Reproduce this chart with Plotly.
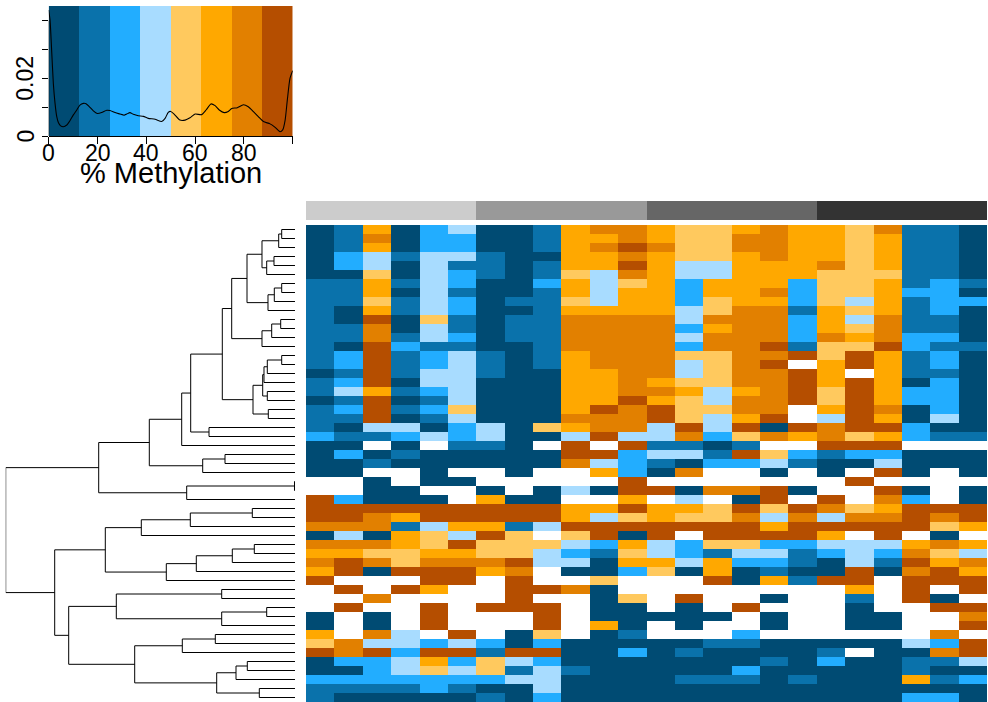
import plotly.graph_objects as go

W, H = 988, 702

# Colour bin palette (8 methylation bins)
palette = ["#004B73", "#0A72AB", "#22ADFF", "#A8DCFF", "#FFC95E", "#FFA800", "#E28000", "#B54E00"]
group_greys = ["#CCCCCC", "#999999", "#666666", "#333333"]
bin_edges = [0, 12.5, 25, 37.5, 50, 62.5, 75, 87.5, 100]

# Heatmap cells: bin number 1-8, 0 = missing value (white)
cells = [
 [1,2,6,1,3,4,1,1,2,6,7,7, 6,5,5,6,7,6,6,5,7,2,2,1],
 [1,2,7,1,3,3,1,1,2,6,6,7, 6,5,5,7,7,6,6,5,6,2,2,1],
 [1,2,6,1,3,3,1,1,2,6,7,8, 7,5,5,7,7,6,6,5,6,2,2,1],
 [1,3,4,2,4,4,2,1,1,6,6,7, 6,5,5,6,7,6,6,5,6,2,2,1],
 [1,3,4,1,4,2,2,1,2,6,6,8, 6,4,4,6,6,6,7,5,6,2,2,1],
 [1,1,5,1,4,3,2,1,2,5,4,7, 6,4,4,6,6,6,5,5,5,2,2,1],
 [2,2,6,2,4,3,1,1,3,6,4,5, 6,3,6,6,6,3,5,5,6,2,3,2],
 [2,2,6,1,4,2,1,1,2,6,4,6, 6,3,6,6,7,3,5,5,6,3,3,1],
 [2,2,5,2,4,3,1,2,2,5,4,6, 6,3,5,6,6,3,5,4,6,2,3,3],
 [2,1,6,2,4,3,1,1,2,6,6,6, 6,4,5,7,7,2,6,5,6,2,3,1],
 [2,1,8,1,5,2,1,2,2,7,7,7, 7,4,7,7,7,3,6,4,7,2,2,1],
 [2,2,7,1,4,2,1,2,2,7,7,7, 7,3,6,7,7,3,6,5,7,2,2,1],
 [2,2,7,2,4,3,1,2,2,7,7,7, 7,4,7,7,7,3,7,6,7,3,3,1],
 [2,1,8,3,2,2,1,1,2,7,7,7, 7,3,7,7,8,2,5,5,8,3,2,2],
 [2,3,8,2,3,4,2,1,2,6,7,7, 7,5,5,7,7,8,5,8,6,2,3,1],
 [2,3,8,2,3,4,2,1,2,6,7,7, 7,4,5,7,8,0,6,8,6,2,3,1],
 [1,2,8,2,4,4,2,1,1,6,6,7, 7,4,5,7,7,8,6,0,6,2,2,1],
 [2,3,8,1,4,4,1,1,1,6,6,7, 6,5,5,7,7,8,6,8,6,1,3,1],
 [2,4,6,2,3,4,1,1,1,6,6,7, 7,6,4,6,7,8,5,8,6,3,3,1],
 [1,2,8,1,2,4,1,1,1,6,6,8, 6,5,4,7,7,8,5,8,6,3,3,1],
 [2,3,8,2,3,5,1,1,1,6,8,7, 8,5,5,7,7,0,6,8,7,1,3,1],
 [2,2,8,1,2,4,1,1,1,7,7,7, 8,5,4,6,8,0,4,8,6,1,4,1],
 [2,1,4,4,1,3,4,1,5,6,7,7, 4,8,4,8,1,8,7,8,8,3,1,1],
 [3,2,2,3,4,3,4,1,1,4,8,4, 4,7,3,5,7,6,7,5,6,3,2,2],
 [1,1,0,1,0,2,2,1,0,8,0,8, 2,2,1,2,0,0,8,8,8,0,0,0],
 [1,3,1,2,1,1,1,1,1,8,8,3, 4,4,2,8,5,3,2,3,3,1,1,1],
 [1,1,2,1,1,1,1,1,1,7,4,3, 2,1,3,3,4,2,1,1,4,1,1,1],
 [1,1,0,0,1,0,0,1,0,0,6,3, 1,7,0,0,1,0,1,0,8,1,0,1],
 [0,0,1,0,1,1,0,0,0,0,0,8, 0,0,0,0,0,0,0,8,0,0,0,0],
 [0,0,1,1,0,0,1,0,1,4,1,8, 8,1,7,7,8,1,0,0,8,1,0,1],
 [8,3,1,1,1,0,6,1,1,0,0,6, 0,4,0,1,8,0,8,0,7,3,0,1],
 [8,8,8,8,8,8,8,8,8,6,6,8, 6,6,5,8,5,8,7,5,6,8,8,8],
 [8,8,7,6,8,8,8,8,8,6,4,5, 6,5,5,7,4,7,4,7,7,8,7,8],
 [7,7,7,2,4,6,6,2,4,8,8,8, 8,8,8,8,6,8,8,8,8,8,5,6],
 [1,4,1,6,5,4,8,5,0,5,8,1, 8,0,8,8,8,8,6,0,8,0,1,0],
 [7,7,7,6,5,8,5,5,5,4,3,6, 4,3,5,5,3,3,4,4,4,6,7,6],
 [6,6,5,5,6,6,5,5,4,3,2,5, 4,3,2,4,4,2,3,4,3,7,5,4],
 [7,8,7,5,7,7,7,8,4,4,1,6, 6,4,6,3,3,2,1,4,2,8,6,7],
 [6,8,1,8,8,8,6,7,0,1,1,3, 5,1,6,1,2,1,1,8,1,7,8,6],
 [8,0,0,0,8,8,0,8,0,0,5,0, 0,0,8,1,6,2,8,8,0,8,8,8],
 [0,8,0,8,6,0,0,8,8,7,1,0, 0,0,0,0,0,0,0,6,0,8,0,8],
 [0,0,7,0,0,0,0,8,0,0,1,5, 0,8,0,0,1,0,0,2,0,8,1,0],
 [0,8,0,0,8,0,8,8,8,0,1,1, 0,1,0,8,0,0,0,1,0,0,8,8],
 [1,0,1,0,8,0,0,0,8,0,1,1, 1,1,1,0,1,0,0,1,1,0,0,7],
 [1,0,1,0,8,0,0,0,8,0,6,1, 0,1,0,0,1,0,0,1,1,0,0,8],
 [6,0,7,4,0,8,0,1,5,0,1,2, 0,0,0,3,0,0,0,0,0,0,7,0],
 [5,7,4,4,3,4,3,1,3,1,1,1, 1,1,2,2,1,1,1,1,1,4,3,8],
 [8,7,8,3,8,8,2,8,8,1,1,3, 1,2,1,1,1,1,2,0,1,1,7,8],
 [1,3,3,4,6,3,5,4,3,1,1,1, 1,1,1,1,2,1,3,1,1,2,2,4],
 [1,1,3,4,5,4,5,2,4,2,1,1, 1,1,1,3,1,1,1,1,1,2,1,1],
 [3,3,3,3,3,3,3,4,4,1,1,1, 1,2,2,2,1,2,1,1,1,6,2,3],
 [2,2,2,2,3,2,1,1,4,1,1,1, 1,1,1,1,1,1,1,1,1,1,1,1],
 [2,1,1,1,1,1,2,1,3,1,1,1, 1,1,1,1,1,1,1,1,1,3,3,1],
]

# Column groups (annotation bar)
col_groups = [1]*6 + [2]*6 + [3]*6 + [4]*6

# Row dendrogram as nested [merge height, child, child]; integers are row numbers
tree = [289.3,
  [196.3,
    [145.7,
      [113.3,
        [104.3,
          [72.7,
            [63.3,
              [48,
                [33, [16.3, [13.3, 0, 1], 2], [28.3, [21, 3, 4], 5]],
                [27, [20.7, [13.3, 6, 7], 8], 9]],
              [33, [23.3, [14.3, 10, 11], 12], 13]],
            [42,
              [32.3,
                [31, [27.7, [13.3, 14, 15], 16], 17],
                [27.7, 18, 19]],
              [26.7, 20, 21]]],
          [86, 22, 23]],
        24],
      [92.3, [70, 25, 26], 27]],
    [108.3, [0.5, 28, 29], 30]],
  [240.3,
    [189.7,
      [153.7, [104.7, [42.7, 31, 32], 33], 34],
      [128.7, [98.7, [62.7, [40.7, 35, 36], 37], 38], 39]],
    [226.3,
      [178.7,
        [73.3, 40, 41],
        [73.3, [28.3, 42, 43], 44]],
      [160.3,
        [112.7, [79.7, 45, 46], 47],
        [78.3, [59, [47.7, 48, 49], 50], [35.7, 51, 52]]]]]]

# Density of % methylation
density_x = [0,.55,1.2,1.9,2.6,3.3,4.0,4.9,6.0,7.4,8.7,10.1,11.5,12.8,14.2,15.3,16.7,18.3,19.9,21.7,
             23.8,25.1,27.2,29.2,30.9,32.0,33.3,34.7,36.7,38.8,40.8,43.6,46.3,47.7,49.0,50.0,51.4,53.8,55.9,57.9,
             60.0,62.7,64.5,66.5,68.2,69.9,71.9,73.6,75.0,77.3,79.8,81.8,83.9,85.9,88.0,90.7,92.8,94.8,95.9,96.9,
             97.8,98.9,100]
density_y = [.0436,.0401,.0298,.0182,.0113,.0067,.0046,.0035,.0032,.0038,.0053,.0073,.0090,.0107,.0113,.0112,.0101,.0087,.0078,.0081,
             .0089,.0088,.0081,.0076,.0072,.0076,.0081,.0075,.0070,.0068,.0061,.0058,.0050,.0061,.0082,.0085,.0076,.0055,.0055,.0063,
             .0076,.0074,.0090,.0111,.0105,.0090,.0081,.0085,.0095,.0098,.0108,.0101,.0084,.0067,.0050,.0042,.0030,.0015,.0021,.0055,
             .0125,.0200,.0226]

x_ticks = [0, 20, 40, 60, 80, 100]
x_tick_labels = ["0", "20", "40", "60", "80", ""]
y_ticks = [0, .01, .02, .03, .04]
y_tick_labels = ["0", "", "0.02", "", ""]
x_title = "% Methylation"

FONT = "Liberation Sans, Helvetica, Arial, sans-serif"


def xdom(a, b):
    return [a / W, b / W]


def ydom(top, bottom):
    return [1 - bottom / H, 1 - top / H]


def discrete(colors):
    n = len(colors)
    out = []
    for i, c in enumerate(colors):
        out += [[i / n, c], [(i + 1) / n, c]]
    return out


# walk the tree into line segments
seg_x, seg_y = [], []


def walk(node):
    if isinstance(node, int):
        return 0.0, float(node)
    h, a, b = node
    ha, ya = walk(a)
    hb, yb = walk(b)
    seg_x.extend([ha, h, h, hb, None])
    seg_y.extend([ya, ya, yb, yb, None])
    return h, (ya + yb) / 2


walk(tree)

fig = go.Figure()

# density panel
fig.add_trace(go.Heatmap(
    x=bin_edges, y=[0, 0.045], z=[list(range(1, 9))],
    colorscale=discrete(palette), zmin=.5, zmax=8.5, showscale=False, hoverinfo="skip",
    xaxis="x", yaxis="y"))
fig.add_trace(go.Scatter(
    x=density_x, y=density_y, mode="lines", line=dict(color="black", width=1.1, shape="spline", smoothing=.6),
    showlegend=False, xaxis="x", yaxis="y"))
fig.add_trace(go.Scatter(
    x=[0, 0], y=[y_ticks[0], y_ticks[-1]], mode="lines", line=dict(color="black", width=1),
    showlegend=False, hoverinfo="skip", cliponaxis=False, xaxis="x", yaxis="y"))

# group bar
fig.add_trace(go.Heatmap(
    z=[col_groups], colorscale=discrete(group_greys), zmin=.5, zmax=4.5, showscale=False,
    hoverinfo="skip", xaxis="x2", yaxis="y2"))

# main heatmap
fig.add_trace(go.Heatmap(
    z=[[v if v else None for v in row] for row in cells],
    colorscale=discrete(palette), zmin=.5, zmax=8.5, showscale=False, hoverongaps=False,
    xaxis="x3", yaxis="y3"))

# dendrogram
fig.add_trace(go.Scatter(
    x=seg_x, y=seg_y, mode="lines", line=dict(color="black", width=1), showlegend=False,
    hoverinfo="skip", cliponaxis=False, xaxis="x4", yaxis="y4"))

blank = dict(showgrid=False, zeroline=False, showticklabels=False, ticks="", showline=False, automargin=False)
row_range = [len(cells) - .5, -.5]

annots = [dict(text=x_title, xref="paper", yref="paper", x=170.7 / W, y=1 - 173 / H,
               xanchor="center", yanchor="middle", showarrow=False, font=dict(size=29, family=FONT))]
for v, t in zip(y_ticks, y_tick_labels):
    if t:
        annots.append(dict(text=t, xref="paper", yref="y", x=25.5 / W, y=v, textangle=-90,
                           xanchor="center", yanchor="middle", showarrow=False, font=dict(size=23, family=FONT)))
for v, t in zip(x_ticks, x_tick_labels):
    if t:
        annots.append(dict(text=t, xref="x", yref="paper", x=v, y=1 - 153 / H,
                           xanchor="center", yanchor="middle", showarrow=False, font=dict(size=23, family=FONT)))

fig.update_layout(
    width=W, height=H, autosize=False,
    margin=dict(l=0, r=0, t=0, b=0),
    paper_bgcolor="white", plot_bgcolor="white",
    font=dict(family=FONT, color="black"),
    showlegend=False,
    annotations=annots,
    xaxis=dict(
        domain=xdom(48.7, 292.7), range=[0, 100], tickmode="array", tickvals=x_ticks,
        showticklabels=False,
        ticks="outside", ticklen=7, tickwidth=1, tickcolor="black", showline=True, linecolor="black", linewidth=1,
        showgrid=False, zeroline=False, automargin=False),
    yaxis=dict(
        domain=ydom(6, 136), range=[0, 0.045], tickmode="array", tickvals=y_ticks,
        showticklabels=False,
        ticks="outside", ticklen=6, tickwidth=1, tickcolor="black", showline=False, showgrid=False, zeroline=False,
        automargin=False),
    xaxis2=dict(domain=xdom(306, 987), range=[-.5, 23.5], **blank),
    yaxis2=dict(domain=ydom(201, 220), range=[-.5, .5], **blank),
    xaxis3=dict(domain=xdom(306, 987), range=[-.5, 23.5], **blank),
    yaxis3=dict(domain=ydom(225, 702), range=row_range, **blank),
    xaxis4=dict(domain=xdom(5.7, 295), range=[289.3, 0], **blank),
    yaxis4=dict(domain=ydom(225, 702), range=row_range, **blank),
)

fig.write_html("out.html", config={"displayModeBar": False},
               post_script="document.body.style.margin='0';document.body.style.overflow='hidden';")
